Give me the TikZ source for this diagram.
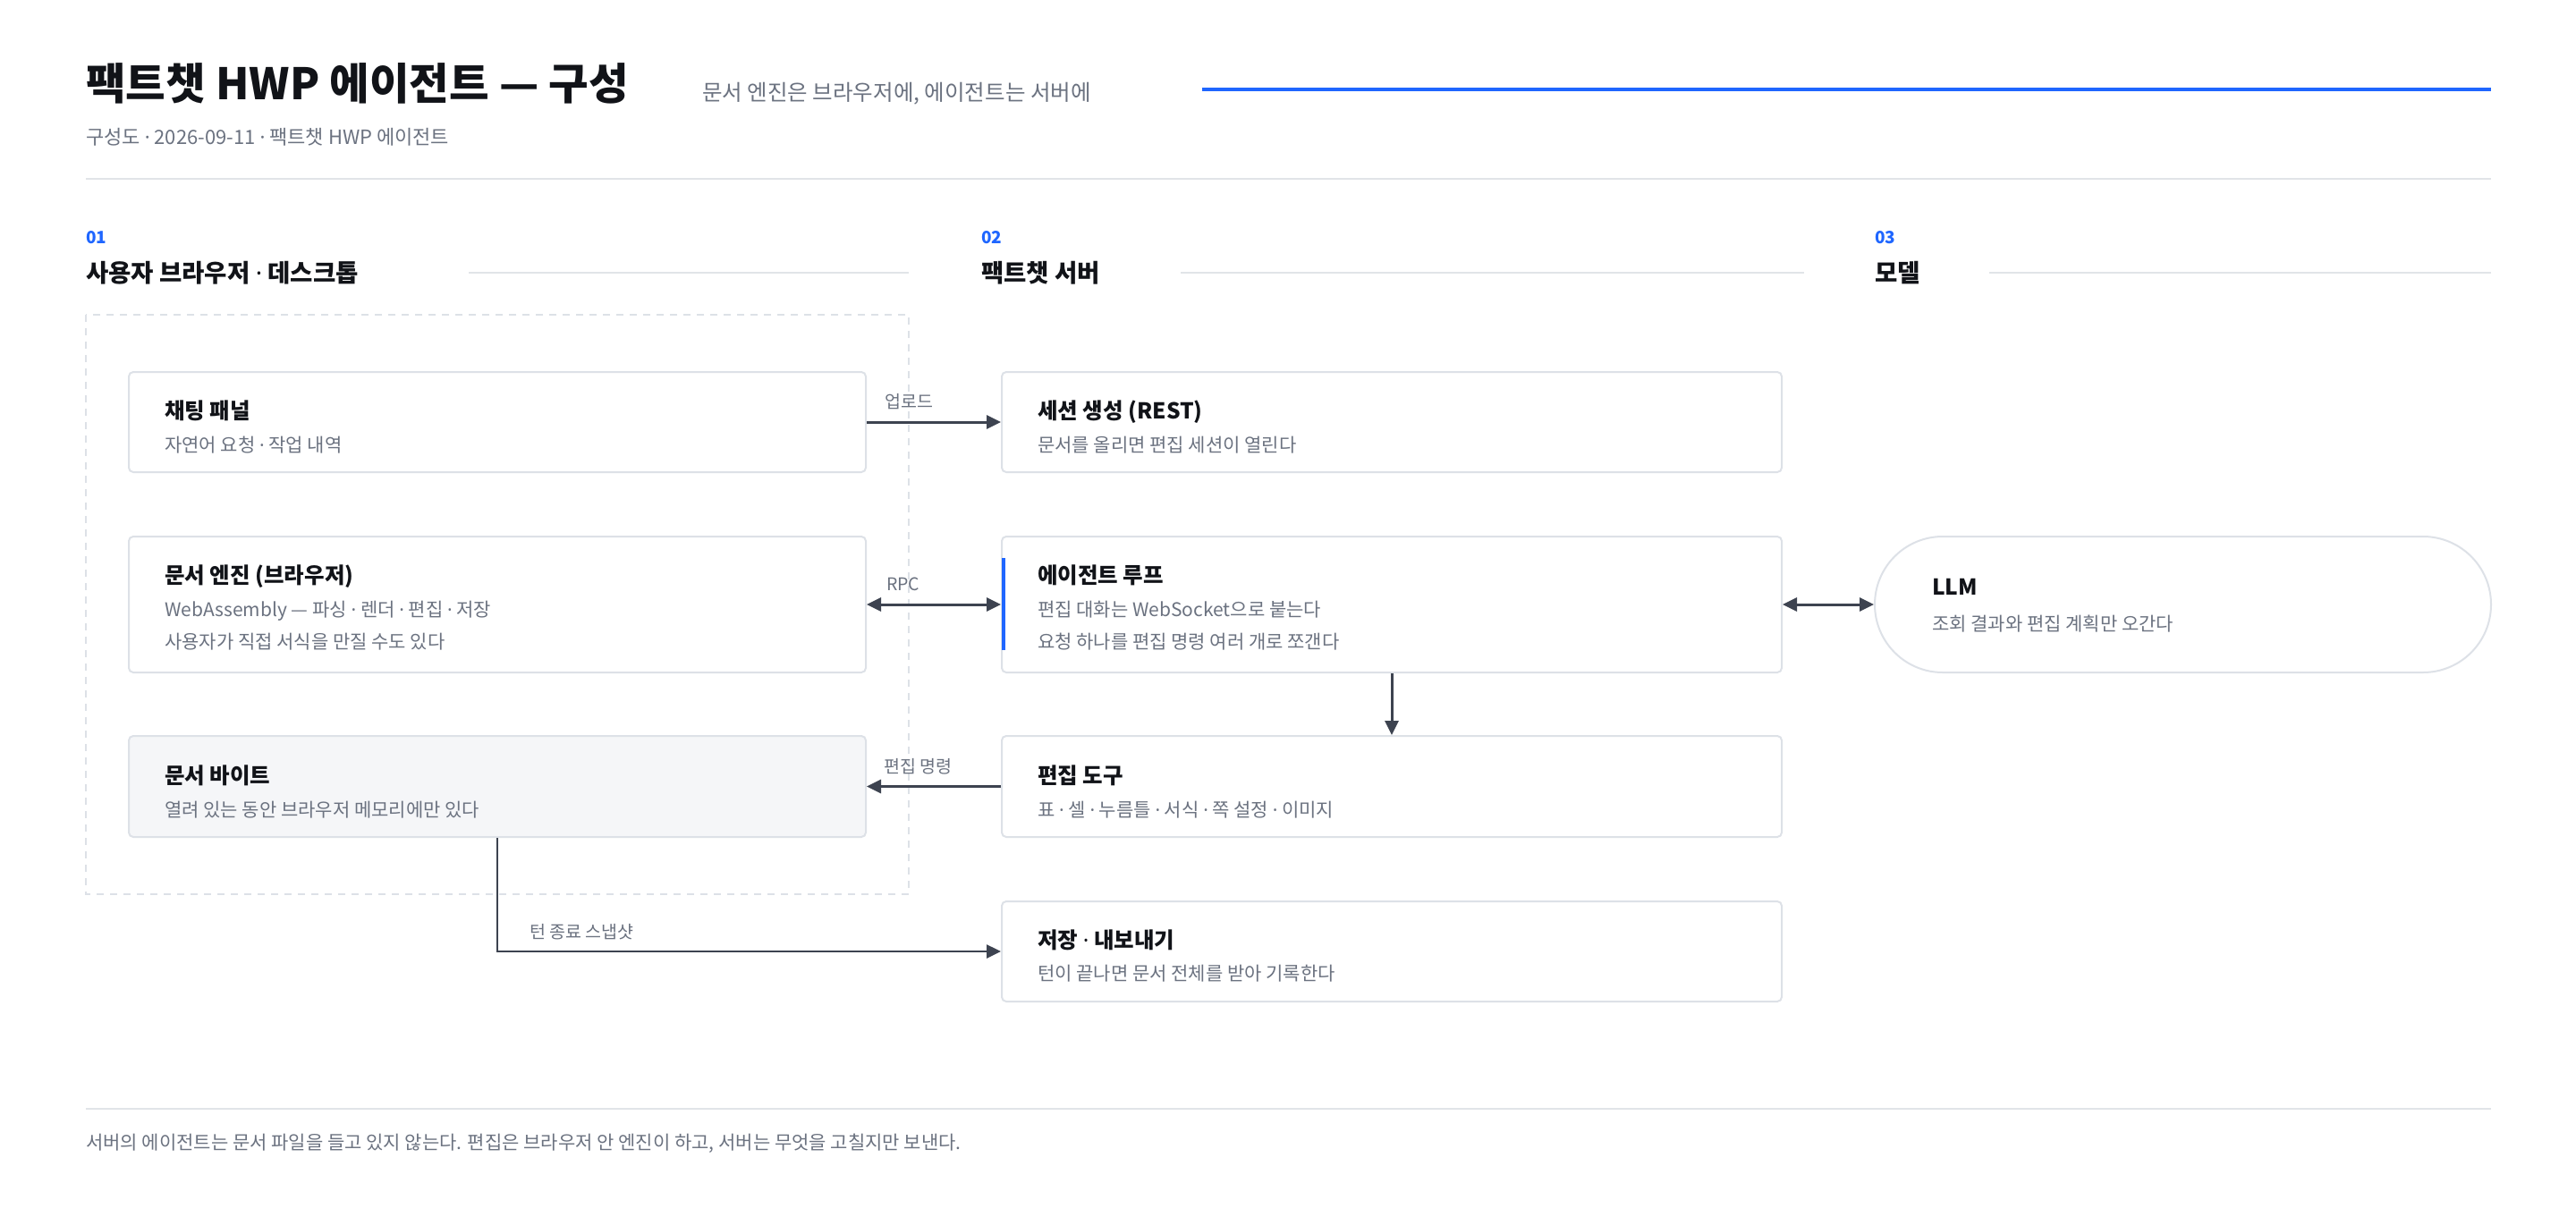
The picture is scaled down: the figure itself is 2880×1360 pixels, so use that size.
\documentclass[tikz,border=0pt]{standalone}
\usepackage{fontspec}
\setmainfont{Noto Sans CJK KR}
\newfontfamily\dotfont{Noto Sans}
\newcommand{\md}{{\dotfont ·}}
\usetikzlibrary{arrows.meta,calc}
\definecolor{ink}{HTML}{111318}
\definecolor{muted}{HTML}{6B7280}
\definecolor{accent}{HTML}{1F66FF}
\definecolor{rulec}{HTML}{E1E4E8}
\definecolor{edgec}{HTML}{DDE1E7}
\definecolor{wire}{HTML}{3D4350}
\definecolor{soft}{HTML}{F5F6F8}
\newcommand{\fsz}[1]{\fontsize{#1}{#1}\selectfont}
\tikzset{
  txt/.style={inner sep=0pt, anchor=base west},
  heading/.style={txt, text=ink, font=\fsz{48.5}\bfseries},
  tagline/.style={txt, text=muted, font=\fsz{24.5}},
  meta/.style={txt, text=muted, font=\fsz{22}},
  lanenum/.style={txt, text=accent, font=\fsz{19}\bfseries},
  lanetitle/.style={txt, text=ink, font=\fsz{27.5}\bfseries},
  cardtitle/.style={txt, text=ink, font=\fsz{24.5}\bfseries},
  cardsub/.style={txt, text=muted, font=\fsz{21}},
  wirelabel/.style={txt, text=muted, font=\fsz{19.5}},
  foot/.style={txt, text=muted, font=\fsz{21}},
  card/.style={draw=edgec, line width=2pt, fill=white, rounded corners=5pt, inner sep=0pt},
  cardA/.style={card, minimum width=824pt},
  cardB/.style={card, minimum width=872pt},
  pill/.style={draw=edgec, line width=2pt, fill=white, rounded corners=76pt, inner sep=0pt, minimum width=689pt, minimum height=152pt},
  hair/.style={draw=rulec, line width=2pt},
  flow/.style={draw=wire, line width=3pt, -{Triangle[length=16pt,width=15pt]}},
  flow2/.style={draw=wire, line width=3pt, {Triangle[length=16pt,width=15pt]}-{Triangle[length=16pt,width=15pt]}},
}
\begin{document}
\begin{tikzpicture}[x=1pt,y=-1pt]
\useasboundingbox (0,0) rectangle (2880,1360);
\fill[white] (0,0) rectangle (2880,1360);

% header
\node[heading] (title) at (96,111) {팩트챗 HWP 에이전트 — 구성};
\node[tagline] (tag) at (785,112) {문서 엔진은 브라우저에, 에이전트는 서버에};
\draw[accent, line width=4pt] (1344,100) -- (2785,100);
\node[meta] (metaline) at (96,161) {구성도 \md{} 2026-09-11 \md{} 팩트챗 HWP 에이전트};
\draw[hair] (96,200) -- (2785,200);

% lanes
\node[lanenum] (n1) at (96,272) {01};
\node[lanetitle] (l1) at (96,315) {사용자 브라우저 \md{} 데스크톱};
\draw[hair] (524,305) -- (1016,305);
\node[lanenum] (n2) at (1097,272) {02};
\node[lanetitle] (l2) at (1097,315) {팩트챗 서버};
\draw[hair] (1320,305) -- (2017,305);
\node[lanenum] (n3) at (2096,272) {03};
\node[lanetitle] (l3) at (2096,315) {모델};
\draw[hair] (2224,305) -- (2785,305);

% browser group
\draw[edgec, line width=2pt, dash pattern=on 8pt off 7pt] (96,352) rectangle (1016,1000);

% column 1 cards
\node[cardA, minimum height=112pt] (chat) at (556,472) {};
\node[cardtitle] (chatT) at (184,468) {채팅 패널};
\node[cardsub] (chatS) at (184,505) {자연어 요청 \md{} 작업 내역};

\node[cardA, minimum height=152pt] (engine) at (556,676) {};
\node[cardtitle] (engineT) at (184,652) {문서 엔진 (브라우저)};
\node[cardsub] (engineS1) at (184,689) {WebAssembly — 파싱 \md{} 렌더 \md{} 편집 \md{} 저장};
\node[cardsub] (engineS2) at (184,725) {사용자가 직접 서식을 만질 수도 있다};

\node[cardA, fill=soft, minimum height=113pt] (bytes) at (556,879.5) {};
\node[cardtitle] (bytesT) at (184,876) {문서 바이트};
\node[cardsub] (bytesS) at (184,913) {열려 있는 동안 브라우저 메모리에만 있다};

% column 2 cards
\node[cardB, minimum height=112pt] (session) at (1556,472) {};
\node[cardtitle] (sessionT) at (1160,468) {세션 생성 (REST)};
\node[cardsub] (sessionS) at (1160,505) {문서를 올리면 편집 세션이 열린다};

\node[cardB, minimum height=152pt] (agent) at (1556,676) {};
\fill[accent] (1120,624) rectangle (1124,727);
\node[cardtitle] (agentT) at (1160,652) {에이전트 루프};
\node[cardsub] (agentS1) at (1160,689) {편집 대화는 WebSocket으로 붙는다};
\node[cardsub] (agentS2) at (1160,725) {요청 하나를 편집 명령 여러 개로 쪼갠다};

\node[cardB, minimum height=113pt] (tools) at (1556,879.5) {};
\node[cardtitle] (toolsT) at (1160,876) {편집 도구};
\node[cardsub] (toolsS) at (1160,913) {표 \md{} 셀 \md{} 누름틀 \md{} 서식 \md{} 쪽 설정 \md{} 이미지};

\node[cardB, minimum height=112pt] (save) at (1556,1064) {};
\node[cardtitle] (saveT) at (1160,1060) {저장 \md{} 내보내기};
\node[cardsub] (saveS) at (1160,1096) {턴이 끝나면 문서 전체를 받아 기록한다};

% column 3
\node[pill] (llm) at (2440.5,676) {};
\node[cardtitle] (llmT) at (2160,665) {LLM};
\node[cardsub] (llmS) at (2160,705) {조회 결과와 편집 계획만 오간다};

% connectors
\draw[flow] (chat.east) -- (session.west);
\node[wirelabel] (lupload) at (989,456) {업로드};
\draw[flow2] (engine.east) -- (agent.west);
\node[wirelabel] (lrpc) at (991,660) {RPC};
\draw[flow] (tools.west) -- (bytes.east);
\node[wirelabel] (lcmd) at (988,864) {편집 명령};
\draw[flow] (agent.south) -- (tools.north);
\draw[flow2] (agent.east) -- (llm.west);
\draw[flow, line width=2.5pt] (bytes.south) |- (save.west);
\node[wirelabel] (lsnap) at (592,1049) {턴 종료 스냅샷};

% footer
\draw[hair] (96,1240) -- (2785,1240);
\node[foot] (footer) at (96,1285) {서버의 에이전트는 문서 파일을 들고 있지 않는다. 편집은 브라우저 안 엔진이 하고, 서버는 무엇을 고칠지만 보낸다.};
\end{tikzpicture}
\end{document}
